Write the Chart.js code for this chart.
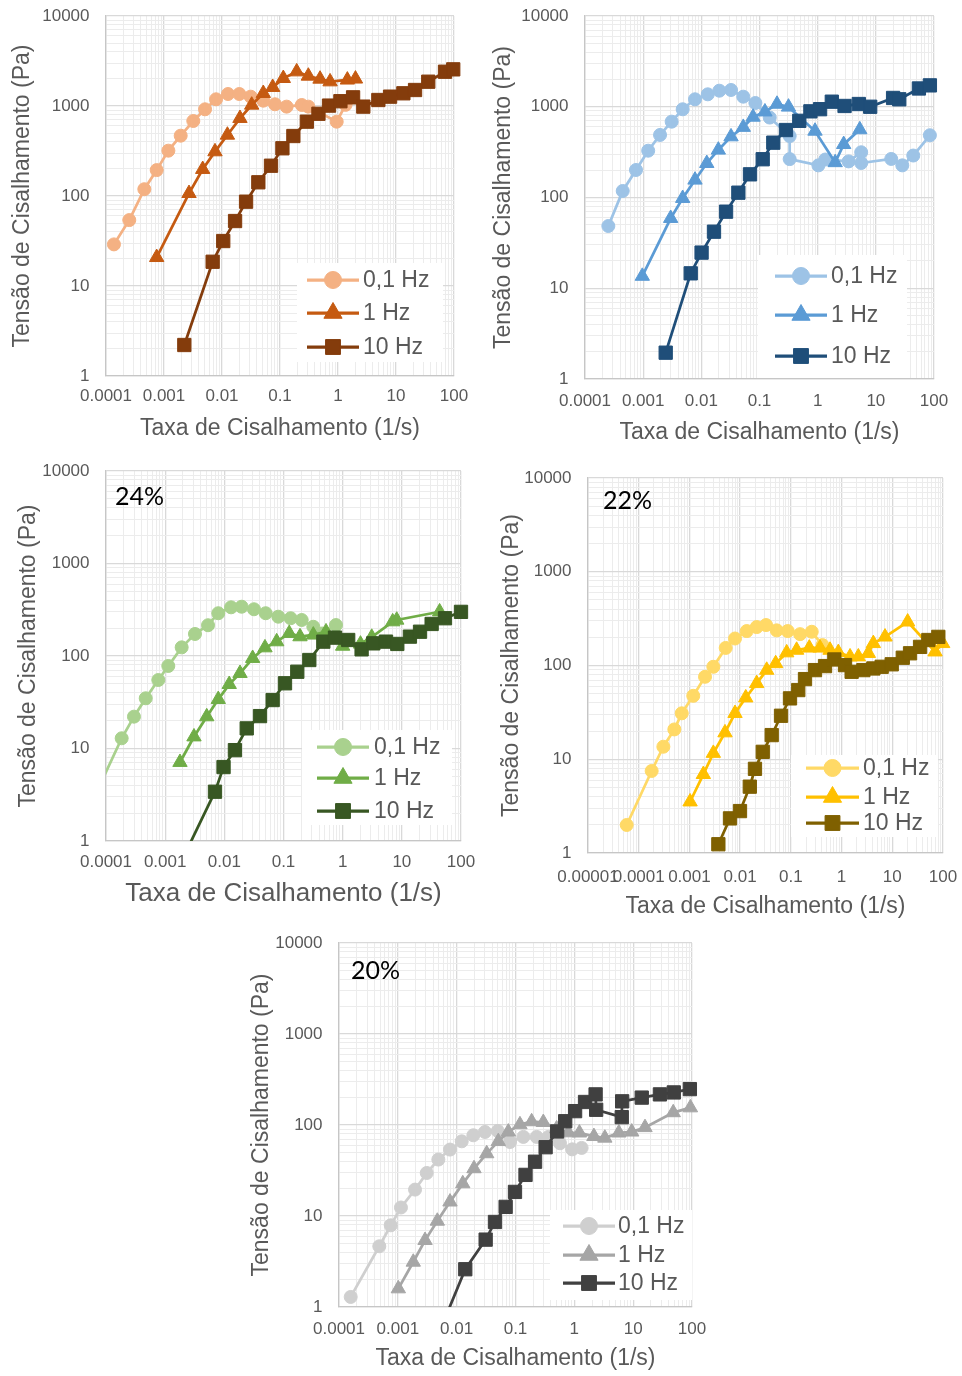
<!DOCTYPE html>
<html lang="pt">
<head>
<meta charset="utf-8">
<title>Tensão de Cisalhamento × Taxa de Cisalhamento</title>
<script src="https://cdn.jsdelivr.net/npm/chart.js@4.4.1/dist/chart.umd.min.js"></script>
<style>
  html, body { margin: 0; padding: 0; background: #ffffff; }
  body { position: relative; width: 962px; height: 1376px; overflow: hidden; }
  canvas { position: absolute; }
</style>
</head>
<body>
<canvas id="chartA"></canvas>
<canvas id="chartB"></canvas>
<canvas id="chartC"></canvas>
<canvas id="chartD"></canvas>
<canvas id="chartE"></canvas>
<script>
// ---- labels ----
const seriesLabels = ['0,1 Hz', '1 Hz', '10 Hz'];
const xTitleText = 'Taxa de Cisalhamento (1/s)';
const yTitleText = 'Tensão de Cisalhamento (Pa)';
const xTickLabels = ['0.0001', '0.001', '0.01', '0.1', '1', '10', '100'];
const xTickLabelsWide = ['0.00001', '0.0001', '0.001', '0.01', '0.1', '1', '10', '100'];
const yTickLabels = ['1', '10', '100', '1000', '10000'];

// ---- panel A ----
const aRate01   = [1.37e-4, 2.52e-4, 4.58e-4, 7.48e-4, 1.19e-3, 1.94e-3, 3.2e-3, 5.1e-3, 7.9e-3, 0.0127, 0.0199, 0.0312, 0.0515, 0.082, 0.13, 0.237, 0.308, 0.95, 1.35];
const aStress01 = [29, 54, 119, 194, 319, 468, 681, 919, 1187, 1359, 1359, 1270, 1146, 1045, 984, 1026, 984, 670, 1030];
const aRate1    = [7.48e-4, 2.7e-3, 4.65e-3, 7.57e-3, 0.0124, 0.0204, 0.0325, 0.0515, 0.0748, 0.114, 0.194, 0.308, 0.49, 0.73, 1.45, 2.0];
const aStress1  = [20.8, 107, 198, 311, 476, 730, 1026, 1384, 1614, 2029, 2404, 2154, 1995, 1862, 1950, 2000];
const aRate10   = [2.24e-3, 6.9e-3, 0.0105, 0.0168, 0.026, 0.0423, 0.07, 0.11, 0.17, 0.29, 0.46, 0.7, 1.1, 1.82, 2.73, 4.96, 7.9, 13.4, 21.3, 36, 70, 97];
const aStress10 = [2.21, 18.6, 31.6, 52.7, 86.5, 142, 217, 339, 464, 670, 820, 1010, 1130, 1248, 984, 1166, 1270, 1384, 1506, 1862, 2404, 2554];

// ---- panel B ----
const bRate01   = [2.52e-4, 4.45e-4, 7.53e-4, 1.22e-3, 1.95e-3, 3.09e-3, 4.78e-3, 7.78e-3, 0.0129, 0.0204, 0.0324, 0.0526, 0.085, 0.15, 0.33, 0.33, 1.03, 1.35, 3.4, 5.6, 5.6, 18.4, 28.5, 44, 85];
const bStress01 = [48.5, 118, 201, 328, 489, 685, 938, 1208, 1371, 1503, 1530, 1291, 1100, 760, 475, 265, 226, 262, 250, 315, 240, 266, 226, 290, 485];
const bRate1    = [9.66e-4, 2.97e-3, 4.78e-3, 7.78e-3, 0.0124, 0.0196, 0.0324, 0.0526, 0.0775, 0.124, 0.2, 0.315, 0.9, 2.0, 2.8, 5.3];
const bStress1  = [13.6, 59, 98, 156, 238, 334, 468, 595, 770, 880, 1070, 995, 540, 243, 385, 560];
const bRate10   = [2.44e-3, 6.57e-3, 0.0101, 0.0165, 0.0266, 0.0433, 0.0687, 0.1135, 0.1726, 0.285, 0.483, 0.75, 1.1, 1.75, 2.9, 5.1, 8.0, 19.8, 25.3, 55, 85];
const bStress10 = [1.95, 14.6, 24.7, 42, 69.8, 113, 180, 264, 402, 554, 700, 890, 940, 1137, 1020, 1072, 1000, 1250, 1208, 1590, 1720];

// ---- panel C (24%) ----
const cRate01   = [7.3e-5, 1.84e-4, 2.97e-4, 4.69e-4, 7.66e-4, 1.13e-3, 1.9e-3, 3.19e-3, 5.3e-3, 7.9e-3, 0.013, 0.0196, 0.0317, 0.05, 0.0817, 0.132, 0.203, 0.319, 0.45, 0.77];
const cStress01 = [3.6, 12.9, 22.1, 34.9, 55, 78, 124, 173, 215, 290, 336, 341, 320, 290, 266, 256, 245, 207, 175, 216];
const cRate1    = [1.78e-3, 3.07e-3, 5.04e-3, 7.9e-3, 0.0121, 0.0184, 0.0301, 0.0486, 0.0767, 0.125, 0.19, 0.319, 0.523, 1.0, 2.0, 3.1, 7.0, 8.2, 43.5];
const cStress1  = [7.1, 13.4, 22.1, 34, 49.4, 65, 94.5, 123, 143, 176, 162, 169, 183, 128, 135, 160, 235, 245, 301];
const cRate10   = [1.92e-3, 6.95e-3, 9.7e-3, 0.0151, 0.0239, 0.0401, 0.0656, 0.106, 0.171, 0.273, 0.471, 0.742, 1.24, 2.09, 3.29, 5.4, 8.38, 13.7, 20.3, 31.9, 53.6, 100];
const cStress10 = [0.62, 3.41, 6.3, 9.6, 16.5, 22.4, 33.4, 50.7, 67.6, 90.5, 143, 158, 149, 118, 137, 143, 135, 162, 183, 222, 256, 300];

// ---- panel D (22%) ----
const dRate01   = [5.8e-5, 1.8e-4, 3.06e-4, 5.04e-4, 7.05e-4, 1.19e-3, 2.03e-3, 2.96e-3, 5.19e-3, 7.92e-3, 0.0135, 0.0212, 0.0324, 0.0526, 0.0867, 0.152, 0.258, 0.42];
const dStress01 = [1.99, 7.5, 13.6, 20.8, 30.9, 47.5, 75.8, 96.9, 154, 194, 233, 257, 270, 237, 233, 216, 229, 165];
const dRate1    = [1.03e-3, 1.88e-3, 2.96e-3, 5.03e-3, 7.92e-3, 0.0129, 0.0212, 0.0334, 0.0502, 0.0828, 0.13, 0.231, 0.376, 0.592, 0.863, 1.47, 2.14, 3.37, 4.23, 7.19, 20.1, 69.7, 98.6];
const dStress1  = [3.52, 6.9, 11.6, 19.2, 30.9, 45.3, 64.4, 89.3, 105, 137, 146, 154, 154, 146, 138, 124, 124, 135, 172, 202, 292, 140, 172];
const dRate10   = [3.72e-3, 6.31e-3, 9.93e-3, 0.0155, 0.0196, 0.0279, 0.0419, 0.064, 0.0962, 0.14, 0.19, 0.299, 0.472, 0.72, 1.17, 1.58, 2.69, 4.23, 6.18, 9.75, 16.1, 22.4, 35.3, 51.4, 80.9];
const dStress10 = [1.24, 2.34, 2.8, 5.1, 7.9, 12.0, 18.1, 29.1, 44.6, 54.7, 71.6, 89.3, 98.6, 116, 101, 85.7, 89.3, 93, 96.9, 103, 121, 135, 158, 187, 202];

// ---- panel E (20%) ----
const eRate01   = [1.58e-4, 4.84e-4, 7.57e-4, 1.13e-3, 1.96e-3, 3.1e-3, 4.88e-3, 7.7e-3, 0.0122, 0.0192, 0.0303, 0.0499, 0.0807, 0.136, 0.229, 0.363, 0.57, 0.92, 1.33];
const eStress01 = [1.29, 4.65, 7.9, 12.4, 19.5, 29.7, 41.7, 53.7, 66.2, 77.1, 83.8, 85.9, 65, 74, 74, 74, 63, 54, 56];
const eRate1    = [1.02e-3, 1.83e-3, 2.9e-3, 4.69e-3, 7.7e-3, 0.0127, 0.0197, 0.0324, 0.051, 0.0755, 0.119, 0.188, 0.297, 0.5, 0.79, 1.22, 2.15, 3.3, 5.7, 9.45, 15.9, 48, 94];
const eStress1  = [1.59, 3.12, 5.4, 8.8, 14.3, 22.7, 33.2, 48.5, 66, 84, 101, 109, 107, 91, 82.4, 82, 75, 72, 82, 84, 94, 137, 155];
const eRate10   = [5.2e-3, 0.014, 0.0311, 0.0448, 0.068, 0.098, 0.148, 0.215, 0.325, 0.51, 0.7, 1.03, 1.52, 2.3, 2.35, 6.4, 6.5, 14, 28.5, 49, 92];
const eStress10 = [0.55, 2.6, 5.5, 8.6, 12.6, 18.4, 28.3, 39.5, 57, 85, 110, 142, 179, 217, 147, 122, 182, 200, 217, 228, 248];

// ---- shared styling ----
const FONT = '"Liberation Sans", Arial, Helvetica, sans-serif';
const TAG_FONT = 'Lato, "Open Sans", sans-serif';
const INK = '#595959';
const GRID_MAJOR = '#d9d9d9';
const GRID_MINOR = '#ececec';
const AXIS_LINE = '#c6c6c6';
const MARKERS = ['circle', 'triangle', 'rect'];
const MARKER_R = [6.5, 8.3, 9.4];
const KEY_R = [8.5, 10.5, 10.5];

// Panel geometry (page pixels)
const panels = [
  { id: 'chartA', canvas: { x: 0, y: 0, w: 480, h: 450 }, plot: { l: 106, t: 16, r: 454, b: 376 },
    xTitleY: 428.5, xTitleSize: 23, yTitleX: 22.5, xTickY: 396, xLabels: xTickLabels,
    colors: ['#F4B183', '#C55A11', '#843C0C'],
    series: [[aRate01, aStress01], [aRate1, aStress1], [aRate10, aStress10]],
    key: { box: [297, 263, 443, 362], line: [307, 359], textX: 363, rows: [280, 313, 347] }, tag: null },
  { id: 'chartB', canvas: { x: 481, y: 0, w: 481, h: 450 }, plot: { l: 585, t: 16, r: 934, b: 379 },
    xTitleY: 432.5, xTitleSize: 23, yTitleX: 503.5, xTickY: 401, xLabels: xTickLabels,
    colors: ['#9DC3E6', '#5B9BD5', '#1F4E79'],
    series: [[bRate01, bStress01], [bRate1, bStress1], [bRate10, bStress10]],
    key: { box: [758, 255, 907, 378], line: [775, 827], textX: 831, rows: [276, 315, 356] }, tag: null },
  { id: 'chartC', canvas: { x: 0, y: 455, w: 481, h: 460 }, plot: { l: 106, t: 471, r: 461, b: 841 },
    xTitleY: 894, xTitleSize: 26, yTitleX: 28.3, xTickY: 862.5, xLabels: xTickLabels,
    colors: ['#A9D18E', '#70AD47', '#385723'],
    series: [[cRate01, cStress01], [cRate1, cStress1], [cRate10, cStress10]],
    key: { box: [302, 730, 452, 825], line: [317, 369], textX: 374, rows: [747, 778, 811] },
    tag: { text: '24%', x: 115, y: 505 } },
  { id: 'chartD', canvas: { x: 481, y: 455, w: 481, h: 470 }, plot: { l: 588, t: 478, r: 943, b: 853 },
    xTitleY: 907, xTitleSize: 23, yTitleX: 511.7, xTickY: 877, xLabels: xTickLabelsWide,
    colors: ['#FFD966', '#FFC000', '#7F6000'],
    series: [[dRate01, dStress01], [dRate1, dStress1], [dRate10, dStress10]],
    key: { box: [791, 755, 938, 837], line: [806, 859], textX: 863, rows: [768, 797, 823] },
    tag: { text: '22%', x: 603, y: 509 } },
  { id: 'chartE', canvas: { x: 240, y: 925, w: 480, h: 451 }, plot: { l: 339, t: 943, r: 692, b: 1307 },
    xTitleY: 1359, xTitleSize: 23, yTitleX: 261.7, xTickY: 1329, xLabels: xTickLabels,
    colors: ['#CFCFCF', '#A6A6A6', '#404040'],
    series: [[eRate01, eStress01], [eRate1, eStress1], [eRate10, eStress10]],
    key: { box: [550, 1210, 692, 1300], line: [563, 615], textX: 618, rows: [1226, 1255, 1283] },
    tag: { text: '20%', x: 351, y: 979 } }
];

// Decade ticks carry labels; the 2..9 multiples only carry grid lines.
function logTicks(labels) {
  const out = [];
  labels.forEach((lab, i) => {
    const d = Number(lab);
    out.push({ value: d, major: true, label: lab });
    if (i < labels.length - 1) {
      for (let m = 2; m <= 9; m++) out.push({ value: +(m * d).toPrecision(8), major: false, label: '' });
    }
  });
  return out;
}

function drawMarker(ctx, style, x, y, r, color) {
  ctx.beginPath();
  if (style === 'circle') {
    ctx.arc(x, y, r, 0, Math.PI * 2);
  } else if (style === 'triangle') {
    for (let k = 0; k < 3; k++) {
      const a = k * 2 * Math.PI / 3;
      const px = x + Math.sin(a) * r, py = y - Math.cos(a) * r;
      if (k === 0) ctx.moveTo(px, py); else ctx.lineTo(px, py);
    }
  } else {
    const s = r * Math.SQRT2;
    ctx.rect(x - s / 2, y - s / 2, s, s);
  }
  ctx.closePath();
  ctx.fillStyle = color;
  ctx.fill();
  ctx.lineWidth = 1;
  ctx.strokeStyle = color;
  ctx.stroke();
}

function overlayPlugin(p) {
  return {
    id: 'overlay_' + p.id,
    afterDatasetsDraw(chart) {
      const ctx = chart.ctx;
      const ox = p.canvas.x, oy = p.canvas.y;
      const k = p.key;
      ctx.save();
      ctx.fillStyle = '#ffffff';
      ctx.fillRect(k.box[0] - ox, k.box[1] - oy, k.box[2] - k.box[0], k.box[3] - k.box[1]);
      seriesLabels.forEach((lab, i) => {
        const y = k.rows[i] - oy;
        ctx.beginPath();
        ctx.moveTo(k.line[0] - ox, y);
        ctx.lineTo(k.line[1] - ox, y);
        ctx.lineWidth = 3.25;
        ctx.strokeStyle = p.colors[i];
        ctx.stroke();
        drawMarker(ctx, MARKERS[i], (k.line[0] + k.line[1]) / 2 - ox, y, KEY_R[i], p.colors[i]);
        ctx.fillStyle = INK;
        ctx.font = '23px ' + FONT;
        ctx.textAlign = 'left';
        ctx.textBaseline = 'middle';
        ctx.fillText(lab, k.textX - ox, y + 1);
      });
      if (p.tag) {
        ctx.fillStyle = '#000000';
        ctx.font = '25px ' + TAG_FONT;
        ctx.textAlign = 'left';
        ctx.textBaseline = 'alphabetic';
        ctx.fillText(p.tag.text, p.tag.x - ox, p.tag.y - oy);
      }
      ctx.restore();
    }
  };
}

function buildChart(p) {
  const el = document.getElementById(p.id);
  el.width = p.canvas.w;
  el.height = p.canvas.h;
  el.style.left = p.canvas.x + 'px';
  el.style.top = p.canvas.y + 'px';

  const yAxisWidth = p.plot.l - p.canvas.x;
  const xAxisHeight = p.canvas.y + p.canvas.h - p.plot.b;
  const xTicks = logTicks(p.xLabels);
  const yTicks = logTicks(yTickLabels);
  const tickFont = { family: FONT, size: 17 };
  const tickLine = 17 * 1.2;

  const gridColor = ctx => (ctx.tick && ctx.tick.major ? GRID_MAJOR : GRID_MINOR);
  const gridWidth = ctx => (ctx.tick && ctx.tick.major ? 1.3 : 1);

  const datasets = p.series.map((s, i) => ({
    label: seriesLabels[i],
    data: s[0].map((x, j) => ({ x: x, y: s[1][j] })),
    borderColor: p.colors[i],
    backgroundColor: p.colors[i],
    borderWidth: 2.75,
    pointStyle: MARKERS[i],
    pointRadius: MARKER_R[i],
    pointBorderWidth: 1,
    pointBackgroundColor: p.colors[i],
    pointBorderColor: p.colors[i],
    tension: 0,
    order: 3 - i,
    clip: { left: 0, bottom: 0, top: 12, right: 12 }
  }));

  // Label gaps are produced with invisible tick marks so that the
  // tick padding does not enlarge the plot margins.
  return new Chart(el, {
    type: 'line',
    data: { datasets },
    plugins: [overlayPlugin(p)],
    options: {
      responsive: false,
      maintainAspectRatio: false,
      devicePixelRatio: 1,
      animation: false,
      events: [],
      layout: { padding: { left: 0, top: p.plot.t - p.canvas.y, right: p.canvas.x + p.canvas.w - p.plot.r, bottom: 0 } },
      plugins: { legend: { display: false }, tooltip: { enabled: false } },
      scales: {
        x: {
          type: 'logarithmic',
          position: 'bottom',
          min: Number(p.xLabels[0]),
          max: Number(p.xLabels[p.xLabels.length - 1]),
          afterBuildTicks: sc => { sc.ticks = xTicks.map(t => ({ value: t.value, major: t.major })); },
          afterFit: sc => { sc.height = xAxisHeight; },
          ticks: {
            autoSkip: false, maxRotation: 0, minRotation: 0,
            color: INK, font: tickFont, padding: 0,
            callback: (v, idx) => xTicks[idx] ? xTicks[idx].label : ''
          },
          grid: {
            color: gridColor, lineWidth: gridWidth, drawTicks: true,
            tickLength: p.xTickY - p.plot.b - tickLine / 2, tickColor: 'rgba(0,0,0,0)'
          },
          border: { display: true, color: AXIS_LINE, width: 1.3 },
          title: {
            display: true, text: xTitleText, color: INK,
            font: { family: FONT, size: p.xTitleSize },
            padding: { top: 0, bottom: p.canvas.y + p.canvas.h - p.xTitleY - p.xTitleSize * 0.6 }
          }
        },
        y: {
          type: 'logarithmic',
          position: 'left',
          min: 1,
          max: 10000,
          afterBuildTicks: sc => { sc.ticks = yTicks.map(t => ({ value: t.value, major: t.major })); },
          afterFit: sc => { sc.width = yAxisWidth; },
          ticks: {
            autoSkip: false, color: INK, font: tickFont, padding: 0,
            callback: (v, idx) => yTicks[idx] ? yTicks[idx].label : ''
          },
          grid: {
            color: gridColor, lineWidth: gridWidth, drawTicks: true,
            tickLength: 16.5, tickColor: 'rgba(0,0,0,0)'
          },
          border: { display: true, color: AXIS_LINE, width: 1.3 },
          title: {
            display: true, text: yTitleText, color: INK,
            font: { family: FONT, size: 23 },
            padding: { top: p.yTitleX - p.canvas.x - 23 * 0.6, bottom: 0 }
          }
        }
      }
    }
  });
}

panels.forEach(buildChart);
</script>
</body>
</html>
